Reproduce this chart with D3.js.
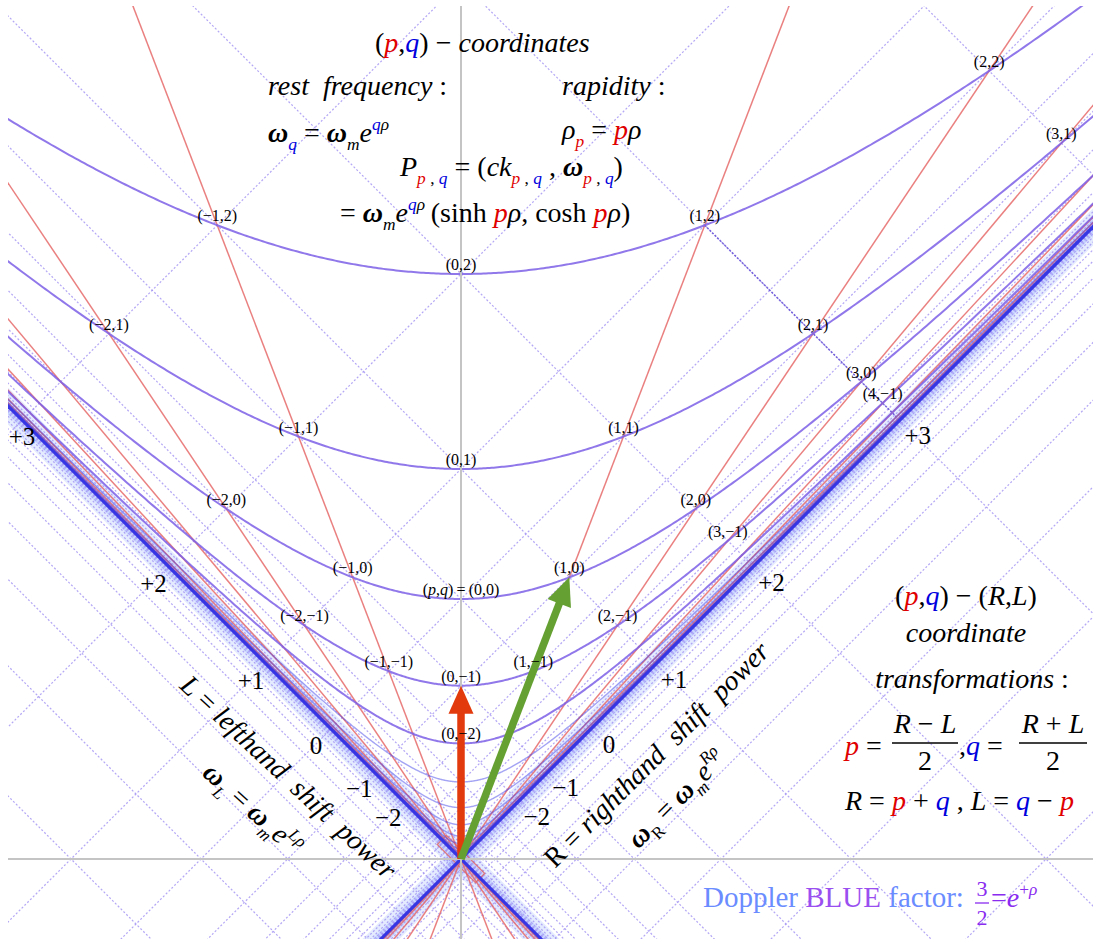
<!DOCTYPE html>
<html>
<head>
<meta charset="utf-8">
<script src="https://cdn.jsdelivr.net/npm/d3@7"></script>
<style>
  body { margin: 0; background: #fff; }
  svg { display: block; }
  text { font-family: "Liberation Serif", "Times New Roman", Times, serif; }
</style>
</head>
<body>
<svg id="chart" width="1093" height="939" font-family="Liberation Serif, Times New Roman, serif"></svg>
<script>
// Doppler factor for one rapidity step: e^rho = 3/2
const dopplerFactor = 1.5;

// rest-frequency levels q drawn as hyperbolas (negative ones crowd the light cone)
const restLevels = [2, 1, 0, -1, -2, -3, -4, -5, -6, -7, -8, -9, -10, -11, -12, -13, -14, -16, -18, -20];

// rapidity steps p drawn as red lines through the origin
const rapiditySteps = [-7, -6, -5, -4, -3, -2, -1, 1, 2, 3, 4, 5, 6, 7];

// light-cone grid exponents (R and L values)
const gridSteps = [4, 3, 2, 1, 0, -1, -2, -3, -4, -5, -6, -7, -8, -9, -10, -11, -12, -13, -14, -16, -18, -20];

// R = 3 diagonal through these lattice points is drawn heavier
const highlightedDiagonal = [[1, 2], [2, 1], [3, 0], [4, -1], [6, -3]];

// labelled lattice points (p, q)
const latticePoints = [
  [2, 2], [3, 1], [-1, 2], [1, 2], [0, 2], [-2, 1], [2, 1], [3, 0], [4, -1],
  [-1, 1], [1, 1], [0, 1], [-2, 0], [2, 0], [3, -1], [-1, 0], [0, 0], [1, 0],
  [-2, -1], [2, -1], [-1, -1], [1, -1], [0, -1], [0, -2]
];

// tick labels along the two light-cone edges
const shiftTicks = [3, 2, 1, 0, -1, -2];

const RED = "#e00000", BLUE = "#0000dd";

const W = 1093, H = 939;
const svg = d3.select("#chart");

// frequency units (omega_m = 1) mapped to pixels
const x = d3.scaleLinear().domain([0, 1]).range([461, 721]);
const y = d3.scaleLinear().domain([0, 1]).range([859, 599]);

const rho = Math.log(dopplerFactor);
const pt = (p, q) => {
  const a = Math.pow(dopplerFactor, q);
  return [a * Math.sinh(p * rho), a * Math.cosh(p * rho)];
};

svg.append("defs").append("clipPath").attr("id", "plotClip")
  .append("rect").attr("x", 8).attr("y", 6).attr("width", W - 8).attr("height", H - 6);

const plot = svg.append("g").attr("clip-path", "url(#plotClip)");
const line = d3.line().x(d => x(d[0])).y(d => y(d[1]));

// soft glow where the grid lines pile up along the light cone
[[26, "#9db6ff", 0.28], [12, "#8aa6ff", 0.3]].forEach(([w, c, o]) => {
  const g = plot.append("g").attr("stroke", c).attr("stroke-width", w)
    .attr("stroke-opacity", o).attr("fill", "none");
  g.append("path").attr("d", line([[-6, -6], [6, 6]]));
  g.append("path").attr("d", line([[-6, 6], [6, -6]]));
});

// dotted R / L grid: x+y = ±c and y-x = ±c with c = (3/2)^n
const gridG = plot.append("g")
  .attr("fill", "none")
  .attr("stroke", "#9c8cf2")
  .attr("stroke-opacity", 0.75)
  .attr("stroke-width", 1.25)
  .attr("stroke-dasharray", "2,2");
gridSteps.forEach(n => {
  const c = Math.pow(dopplerFactor, n);
  [c, -c].forEach(s => {
    gridG.append("path").attr("d", line([[s / 2 - 8, s / 2 + 8], [s / 2 + 8, s / 2 - 8]]));
    gridG.append("path").attr("d", line([[-s / 2 - 8, s / 2 - 8], [-s / 2 + 8, s / 2 + 8]]));
  });
});
plot.append("path")
  .attr("d", line(highlightedDiagonal.map(([p, q]) => pt(p, q))))
  .attr("fill", "none").attr("stroke", "#6a55d6").attr("stroke-width", 1.5)
  .attr("stroke-dasharray", "2,1.5").attr("stroke-opacity", 0.9);

// red rapidity lines through the origin
const redG = plot.append("g").attr("stroke", "#e66a6a").attr("stroke-width", 1.5)
  .attr("stroke-opacity", 0.85).attr("fill", "none");
rapiditySteps.forEach(p => {
  const dx = Math.sinh(p * rho), dy = Math.cosh(p * rho);
  const k = 8 / dy;
  redG.append("path").attr("d", line([[-k * dx, -k * dy], [k * dx, k * dy]]));
});

// small tilted red frame at the origin
plot.append("rect")
  .attr("x", x(0) - 27).attr("y", y(0) - 6.5).attr("width", 54).attr("height", 13)
  .attr("transform", `rotate(45, ${x(0)}, ${y(0)})`)
  .attr("fill", "none").attr("stroke", "#e06060").attr("stroke-width", 1.3).attr("stroke-opacity", 0.8);

// hyperbolas of constant rest frequency
const hypG = plot.append("g").attr("fill", "none");
restLevels.forEach(q => {
  const a = Math.pow(dopplerFactor, q);
  const tMax = Math.asinh(6 / a);
  const pts = d3.range(0, 801).map(i => {
    const t = -tMax + (2 * tMax * i) / 800;
    return [a * Math.sinh(t), a * Math.cosh(t)];
  });
  const inner = q >= -2;
  hypG.append("path")
    .attr("d", line(pts))
    .attr("stroke", inner ? "#7d5fe6" : "#4a4aec")
    .attr("stroke-width", inner ? 2 : 1.4)
    .attr("stroke-opacity", inner ? 0.85 : 0.5);
});

// light cone edges
const coneG = plot.append("g").attr("stroke", "#3636e4").attr("stroke-width", 3.2).attr("fill", "none");
coneG.append("path").attr("d", line([[-6, -6], [6, 6]]));
coneG.append("path").attr("d", line([[-6, 6], [6, -6]]));

// gray frame axes
const axG = plot.append("g").attr("stroke", "#c4c4c4").attr("stroke-width", 2);
axG.append("line").attr("x1", 0).attr("x2", W).attr("y1", y(0)).attr("y2", y(0));
axG.append("line").attr("x1", x(0)).attr("x2", x(0)).attr("y1", 0).attr("y2", H);

// 4-vector arrows
function arrow(tip, color) {
  const x0 = x(0), y0 = y(0), x1 = x(tip[0]), y1 = y(tip[1]);
  const len = Math.hypot(x1 - x0, y1 - y0);
  const ux = (x1 - x0) / len, uy = (y1 - y0) / len;
  const hl = 28, hw = 12.5;
  const bx = x1 - ux * hl, by = y1 - uy * hl;
  plot.append("line").attr("x1", x0).attr("y1", y0).attr("x2", bx + ux * 2).attr("y2", by + uy * 2)
    .attr("stroke", color).attr("stroke-width", 7.5);
  plot.append("path")
    .attr("d", `M${x1},${y1}L${bx - uy * hw},${by + ux * hw}L${bx + uy * hw},${by - ux * hw}Z`)
    .attr("fill", color);
}
arrow(pt(0, -1), "#e23a0c");
arrow(pt(1, 0), "#65a032");

// ---------- text ----------
const I = (t, c, extra) => Object.assign({ t, i: true, c }, extra || {});
const N = (t, c, extra) => Object.assign({ t, i: false, c }, extra || {});
const Sub = (t, c, i = true) => ({ t, i, c, sub: true });
const Sup = (t, c, i = true) => ({ t, i, c, sup: true });

function rich(parent, px, py, size, parts, anchor) {
  const el = parent.append("text").attr("x", px).attr("y", py)
    .attr("font-family", "Liberation Serif, Times New Roman, serif")
    .attr("font-size", size).attr("text-anchor", anchor || "start");
  let off = 0;
  parts.forEach(s => {
    let shift = 0, fs = size;
    if (s.sub) { shift = 0.27 * size; fs = 0.62 * size; }
    if (s.sup) { shift = -0.42 * size; fs = 0.62 * size; }
    const ts = el.append("tspan").text(s.t)
      .attr("dy", shift - off)
      .attr("font-size", fs)
      .attr("font-style", s.i ? "italic" : "normal")
      .attr("fill", s.c || "#000");
    if (s.b) ts.attr("font-weight", "bold");
    off = shift;
  });
  return el;
}
const W_ = (t) => I(t, "#000", { b: true }); // heavy omega

const txt = svg.append("g");

rich(txt, 375, 52, 28, [N("("), I("p", RED), N(","), I("q", BLUE), N(") \u2212 "), I("coordinates")]);
rich(txt, 268, 95, 28, [I("rest\u00a0\u00a0frequency"), N("\u00a0:")]);
rich(txt, 562, 95, 28, [I("rapidity"), N("\u00a0:")]);
rich(txt, 268, 142, 28, [W_("\u03c9"), Sub("q", BLUE), N(" = "), W_("\u03c9"), Sub("m"), I("e"), Sup("q", BLUE), Sup("\u03c1")]);
rich(txt, 562, 139, 28, [I("\u03c1"), Sub("p", RED), N(" = "), I("p", RED), I("\u03c1")]);
rich(txt, 400, 176, 28, [I("P"), Sub("p", RED), Sub(" , ", "#000", false), Sub("q", BLUE), N(" = ("), I("ck"),
  Sub("p", RED), Sub(" , ", "#000", false), Sub("q", BLUE), N(" , "), W_("\u03c9"), Sub("p", RED), Sub(" , ", "#000", false), Sub("q", BLUE), N(")")]);
rich(txt, 340, 222, 28, [N("= "), W_("\u03c9"), Sub("m"), I("e"), Sup("q", BLUE), Sup("\u03c1"), N("\u2009(sinh "), I("p", RED), I("\u03c1"),
  N(", cosh "), I("p", RED), I("\u03c1"), N(")")]);

// coordinate transformation block
rich(txt, 966, 605, 28, [N("("), I("p", RED), N(","), I("q", BLUE), N(") \u2212 ("), I("R"), N(","), I("L"), N(")")], "middle");
rich(txt, 966, 642, 28, [I("coordinate")], "middle");
rich(txt, 972, 688, 28, [I("transformations"), N("\u00a0:")], "middle");

function fraction(cx, barY, w, size, num, den, color) {
  txt.append("line").attr("x1", cx - w / 2).attr("x2", cx + w / 2).attr("y1", barY).attr("y2", barY)
    .attr("stroke", color || "#000").attr("stroke-width", 1.3);
  rich(txt, cx, barY - 0.36 * size, size, num, "middle");
  rich(txt, cx, barY + 0.98 * size, size, den, "middle");
}
rich(txt, 845, 755, 28, [I("p", RED), N(" =")]);
fraction(925, 743, 66, 28, [I("R"), N(" \u2212 "), I("L")], [N("2")]);
rich(txt, 959, 755, 28, [N(","), I("q", BLUE), N(" =")]);
fraction(1053, 743, 68, 28, [I("R"), N(" + "), I("L")], [N("2")]);
rich(txt, 845, 810, 28, [I("R"), N(" = "), I("p", RED), N(" + "), I("q", BLUE), N("  , "), I("L"), N(" = "), I("q", BLUE), N(" \u2212 "), I("p", RED)]);

// Doppler factor note
const LB = "#6a8cff", PU = "#9a50f0", PV = "#8a2cf0";
rich(txt, 703, 907, 29, [N("Doppler", LB), N(" BLUE", PU), N(" factor:", LB)]);
txt.append("line").attr("x1", 975).attr("x2", 989).attr("y1", 903).attr("y2", 903).attr("stroke", PV).attr("stroke-width", 1.3);
rich(txt, 982, 896, 22, [N("3", PV)], "middle");
rich(txt, 982, 925, 22, [N("2", PV)], "middle");
rich(txt, 991, 907, 28, [N("=", PV), I("e", PV), Sup("+", PV, false), Sup("\u03c1", PV)]);

// rotated captions along the light cone
rich(txt, 0, 0, 28, [I("L"), N(" = "), I("lefthand\u00a0\u00a0shift\u00a0\u00a0power")], "middle")
  .attr("transform", "translate(282,784) rotate(43)");
rich(txt, 0, 0, 28, [W_("\u03c9"), Sub("L"), N(" = "), W_("\u03c9"), Sub("m"), I("e"), Sup("L"), Sup("\u03c1")], "middle")
  .attr("transform", "translate(247,816) rotate(42)");
rich(txt, 0, 0, 28, [N("R = "), I("righthand\u00a0\u00a0shift\u00a0\u00a0power")], "middle")
  .attr("transform", "translate(663,761) rotate(-45)");
rich(txt, 0, 0, 28, [W_("\u03c9"), Sub("R", "#000", false), N(" = "), W_("\u03c9"), Sub("m"), I("e"), Sup("R"), Sup("\u03c1")], "middle")
  .attr("transform", "translate(683,805) rotate(-45)");

// R and L tick labels where the grid meets the light cone
const fmt = v => (v > 0 ? "+" + v : v < 0 ? "\u2212" + Math.abs(v) : "0");
shiftTicks.forEach(v => {
  const d = Math.pow(dopplerFactor, v) / 2;
  rich(txt, x(d) + 18, y(d) + 24, 25, [N(fmt(v))], "middle");
  rich(txt, Math.max(22, x(-d) - 15), y(d) + 25, 25, [N(fmt(v))], "middle");
});

// lattice point labels
function fmt2(v) { return v < 0 ? "\u2212" + Math.abs(v) : String(v); }
latticePoints.forEach(([p, q]) => {
  const [u, v] = pt(p, q);
  const parts = (p === 0 && q === 0)
    ? [N("("), I("p"), N(","), I("q"), N(")\u2009=\u2009(0,0)")]
    : [N(`(${fmt2(p)},${fmt2(q)})`)];
  rich(txt, x(u), y(v) - 4, 16, parts, "middle");
});
</script>
</body>
</html>
